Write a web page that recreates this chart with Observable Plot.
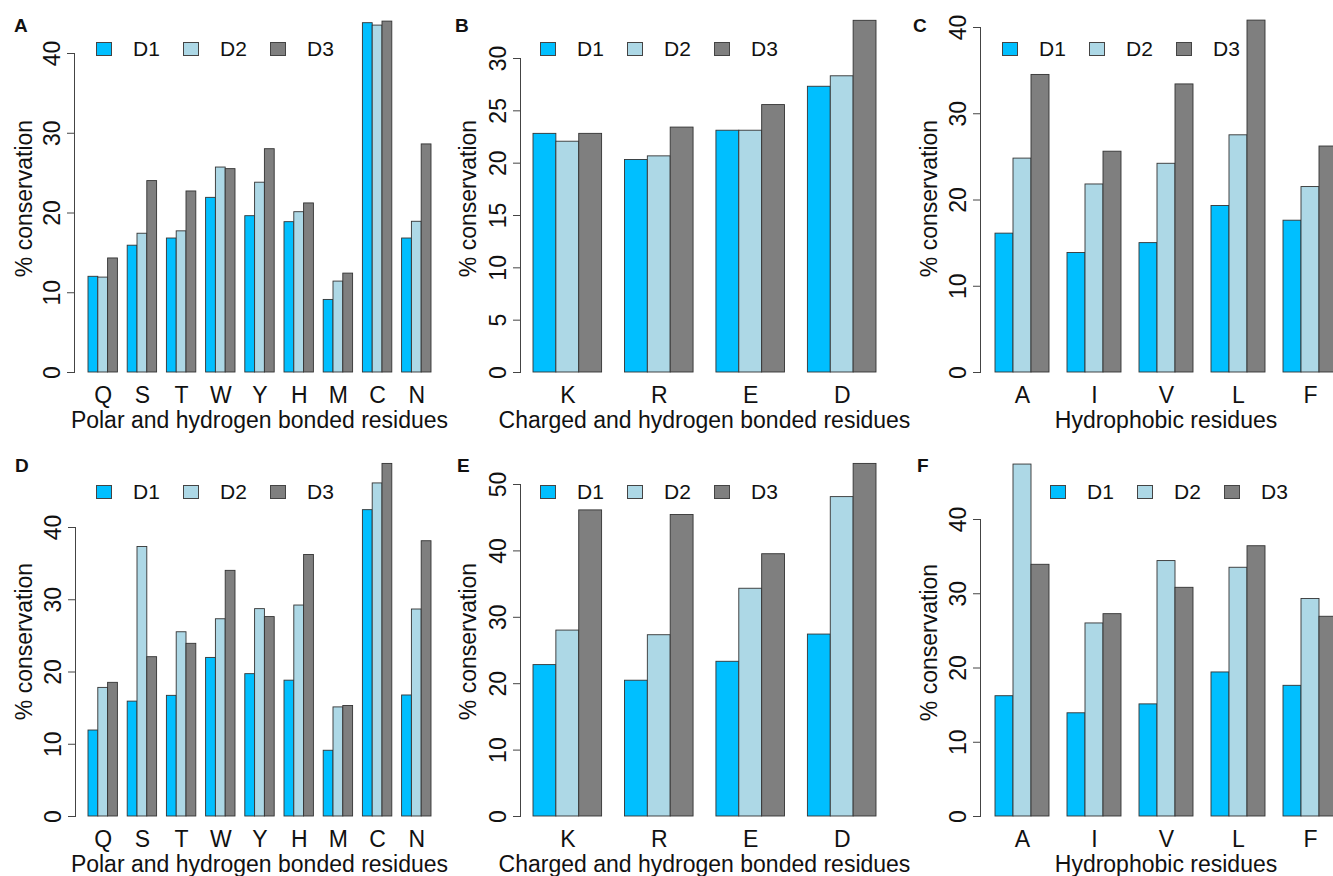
<!DOCTYPE html>
<html><head><meta charset="utf-8">
<script src="https://cdn.jsdelivr.net/npm/d3@7"></script>
<script src="https://cdn.jsdelivr.net/npm/@observablehq/plot@0.6"></script>
<style>
html,body{margin:0;padding:0;background:#fff;overflow:hidden;}
#fig{position:relative;width:1333px;height:876px;overflow:hidden;font-family:"Liberation Sans",Arial,Helvetica,sans-serif;color:#111;}
.panel{position:absolute;}
.panel svg{max-width:none !important;}
#fig svg text{font-size:23px !important;}
.t{position:absolute;white-space:nowrap;line-height:1;}
.sq{position:absolute;box-sizing:border-box;border:1px solid #444;}
</style></head><body><div id="fig"></div>
<script>
// ---- data ----
const setNames = ["D1", "D2", "D3"];
const setColors = ["#00BFFF", "#ADD8E6", "#7F7F7F"];

const polarResidues = ["Q", "S", "T", "W", "Y", "H", "M", "C", "N"];
const chargedResidues = ["K", "R", "E", "D"];
const hydrophobicResidues = ["A", "I", "V", "L", "F"];

const polarLabel = "Polar and hydrogen bonded residues";
const chargedLabel = "Charged and hydrogen bonded residues";
const hydrophobicLabel = "Hydrophobic residues";
const yLabel = "% conservation";

// Panel A
const aD1 = [12.0, 15.9, 16.8, 21.9, 19.6, 18.85, 9.1, 43.8, 16.8];
const aD2 = [11.9, 17.4, 17.7, 25.7, 23.8, 20.1, 11.4, 43.5, 18.9];
const aD3 = [14.3, 24.0, 22.7, 25.5, 28.0, 21.2, 12.4, 44.0, 28.6];
// Panel B
const bD1 = [22.8, 20.3, 23.1, 27.3];
const bD2 = [22.05, 20.65, 23.1, 28.3];
const bD3 = [22.8, 23.4, 25.55, 33.6];
// Panel C
const cD1 = [16.1, 13.85, 15.0, 19.3, 17.6];
const cD2 = [24.8, 21.8, 24.2, 27.5, 21.5];
const cD3 = [34.5, 25.6, 33.4, 40.8, 26.2];
// Panel D
const dD1 = [11.9, 15.9, 16.7, 21.95, 19.7, 18.8, 9.1, 42.4, 16.75];
const dD2 = [17.8, 37.3, 25.5, 27.3, 28.7, 29.2, 15.1, 46.1, 28.65];
const dD3 = [18.5, 22.05, 23.9, 34.0, 27.6, 36.2, 15.3, 48.8, 38.1];
// Panel E
const eD1 = [22.8, 20.45, 23.3, 27.4];
const eD2 = [28.0, 27.3, 34.3, 48.1];
const eD3 = [46.1, 45.4, 39.5, 53.1];
// Panel F
const fD1 = [16.2, 13.9, 15.1, 19.4, 17.6];
const fD2 = [47.4, 26.0, 34.4, 33.5, 29.3];
const fD3 = [33.9, 27.25, 30.8, 36.4, 26.9];

const ticks40 = [0, 10, 20, 30, 40];
const ticks30 = [0, 5, 10, 15, 20, 25, 30];
const ticks50 = [0, 10, 20, 30, 40, 50];

// ---- layout ----
const panels = [
  {letter: "A", residues: polarResidues, series: [aD1, aD2, aD3], ticks: ticks40, xlabel: polarLabel,
   left: 0, top: 0, w: 445, h: 440, ml: 88, mr: 14, mt: 53, mb: 68, axisX: 74, letterX: 14, ylabX: 32, ylabY: 198, legX: 96, legY: 41.5},
  {letter: "B", residues: chargedResidues, series: [bD1, bD2, bD3], ticks: ticks30, xlabel: chargedLabel,
   left: 445, top: 0, w: 445, h: 440, ml: 88, mr: 14, mt: 58, mb: 68, axisX: 520, letterX: 455, ylabX: 476, ylabY: 198, legX: 540, legY: 41.5},
  {letter: "C", residues: hydrophobicResidues, series: [cD1, cD2, cD3], ticks: ticks40, xlabel: hydrophobicLabel,
   left: 890, top: 0, w: 447, h: 440, ml: 105, mr: 0, mt: 27, mb: 68, axisX: 980, letterX: 913, ylabX: 937, ylabY: 198, legX: 1002, legY: 41.5},
  {letter: "D", residues: polarResidues, series: [dD1, dD2, dD3], ticks: ticks40, xlabel: polarLabel,
   left: 0, top: 440, w: 445, h: 436, ml: 88, mr: 14, mt: 87, mb: 60, axisX: 75, letterX: 15, ylabX: 32, ylabY: 641.5, legX: 96, legY: 484.5},
  {letter: "E", residues: chargedResidues, series: [eD1, eD2, eD3], ticks: ticks50, xlabel: chargedLabel,
   left: 445, top: 440, w: 445, h: 436, ml: 88, mr: 14, mt: 44, mb: 60, axisX: 520, letterX: 457, ylabX: 476, ylabY: 641.5, legX: 540, legY: 484.5},
  {letter: "F", residues: hydrophobicResidues, series: [fD1, fD2, fD3], ticks: ticks40, xlabel: hydrophobicLabel,
   left: 890, top: 440, w: 447, h: 436, ml: 105, mr: 0, mt: 79, mb: 60, axisX: 980, letterX: 917, ylabX: 937, ylabY: 642, legX: 1050, legY: 484.5}
];

const FONT = '"Liberation Sans", Arial, Helvetica, sans-serif';
const fig = document.getElementById("fig");

function addText(txt, x, baseline, fs, extra = {}) {
  const d = document.createElement("div");
  d.className = "t";
  d.textContent = txt;
  d.style.fontSize = fs + "px";
  d.style.left = x + "px";
  d.style.top = (baseline - 0.847 * fs) + "px";
  Object.assign(d.style, extra);
  fig.appendChild(d);
  return d;
}

for (const p of panels) {
  const rows = p.residues.flatMap((r, i) => setNames.map((s, j) => ({residue: r, set: s, value: p.series[j][i]})));
  const yMax = p.ticks[p.ticks.length - 1];
  const off = p.axisX - (p.left + p.ml);
  const chart = Plot.plot({
    width: p.w, height: p.h,
    marginLeft: p.ml, marginRight: p.mr, marginTop: p.mt, marginBottom: p.mb,
    style: {fontFamily: FONT, fontSize: "23px", color: "#111", background: "transparent", overflow: "visible"},
    fx: {domain: p.residues, paddingInner: 0.25, paddingOuter: 0, round: false},
    x: {domain: setNames, padding: 0, round: false, axis: null},
    y: {domain: [0, yMax]},
    color: {domain: setNames, range: setColors},
    marks: [
      Plot.frame({anchor: "left", facetAnchor: "left", insetLeft: off, stroke: "#444"}),
      Plot.axisY({ticks: p.ticks, tickSize: 7, tickRotate: -90, tickPadding: 8, dx: off, fontSize: 23, label: null, stroke: "#444", fill: "#111"}),
      Plot.axisFx({anchor: "bottom", tickSize: 0, tickPadding: 14, fontSize: 23, label: null, fill: "#111"}),
      Plot.barY(rows, {fx: "residue", x: "set", y: "value", fill: "set", stroke: "#333", strokeWidth: 0.9})
    ]
  });
  const holder = document.createElement("div");
  holder.className = "panel";
  holder.style.left = p.left + "px";
  holder.style.top = p.top + "px";
  holder.style.width = p.w + "px";
  holder.appendChild(chart);
  fig.appendChild(holder);

  const zeroY = p.top + p.h - p.mb;
  addText(p.letter, p.letterX, p.top + 32, 19, {fontWeight: "bold"});
  const cx = p.left + p.ml + (p.w - p.ml - p.mr) / 2;
  addText(p.xlabel, cx - 300, zeroY + 56, 23, {width: "600px", textAlign: "center"});
  const fs = 23;
  const yl = document.createElement("div");
  yl.className = "t";
  yl.textContent = yLabel;
  yl.style.fontSize = fs + "px";
  yl.style.width = "300px";
  yl.style.textAlign = "center";
  const ycx = p.ylabX - 0.347 * fs;
  yl.style.left = (ycx - 150) + "px";
  yl.style.top = (p.ylabY - fs / 2) + "px";
  yl.style.height = fs + "px";
  yl.style.transform = "rotate(-90deg)";
  yl.style.transformOrigin = "50% 50%";
  fig.appendChild(yl);
  setNames.forEach((s, i) => {
    const sq = document.createElement("div");
    sq.className = "sq";
    sq.style.left = (p.legX + i * 87) + "px";
    sq.style.top = p.legY + "px";
    sq.style.width = "16px";
    sq.style.height = "14px";
    sq.style.background = setColors[i];
    fig.appendChild(sq);
    addText(s, p.legX + 37 + i * 87, p.legY + 14.5, 21);
  });
}
</script></body></html>
